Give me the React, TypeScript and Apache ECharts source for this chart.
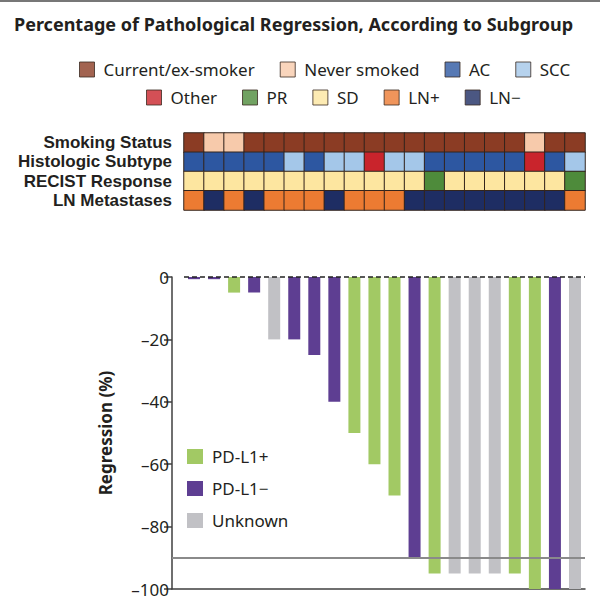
import React, { useEffect, useRef } from 'react';
import * as echarts from 'echarts';

// ---------- data ----------
const patients = ['P1', 'P2', 'P3', 'P4', 'P5', 'P6', 'P7', 'P8', 'P9', 'P10', 'P11', 'P12', 'P13', 'P14', 'P15', 'P16', 'P17', 'P18', 'P19', 'P20'];
const regression = [-0.7, -0.7, -5, -5, -20, -20, -25, -40, -50, -60, -70, -90, -95, -95, -95, -95, -95, -100, -100, -100];
const pdl1Status = ['PD-L1−', 'PD-L1−', 'PD-L1+', 'PD-L1−', 'Unknown', 'PD-L1−', 'PD-L1−', 'PD-L1−', 'PD-L1+', 'PD-L1+', 'PD-L1+', 'PD-L1−', 'PD-L1+', 'Unknown', 'Unknown', 'Unknown', 'PD-L1+', 'PD-L1+', 'PD-L1−', 'Unknown'];
const pdl1Groups = ['PD-L1+', 'PD-L1−', 'Unknown'];

const rowLabels = ['Smoking Status', 'Histologic Subtype', 'RECIST Response', 'LN Metastases'];
const smokingStatus = ['Current/ex-smoker', 'Never smoked', 'Never smoked', 'Current/ex-smoker', 'Current/ex-smoker', 'Current/ex-smoker', 'Current/ex-smoker', 'Current/ex-smoker', 'Current/ex-smoker', 'Current/ex-smoker', 'Current/ex-smoker', 'Current/ex-smoker', 'Current/ex-smoker', 'Current/ex-smoker', 'Current/ex-smoker', 'Current/ex-smoker', 'Current/ex-smoker', 'Never smoked', 'Current/ex-smoker', 'Current/ex-smoker'];
const histologicSubtype = ['AC', 'AC', 'AC', 'AC', 'AC', 'SCC', 'AC', 'SCC', 'SCC', 'Other', 'SCC', 'SCC', 'AC', 'AC', 'AC', 'AC', 'AC', 'Other', 'AC', 'SCC'];
const recistResponse = ['SD', 'SD', 'SD', 'SD', 'SD', 'SD', 'SD', 'SD', 'SD', 'SD', 'SD', 'SD', 'PR', 'SD', 'SD', 'SD', 'SD', 'SD', 'SD', 'PR'];
const lnMetastases = ['LN+', 'LN−', 'LN+', 'LN−', 'LN+', 'LN+', 'LN+', 'LN−', 'LN+', 'LN+', 'LN+', 'LN−', 'LN−', 'LN−', 'LN−', 'LN−', 'LN−', 'LN−', 'LN−', 'LN+'];

const legendRow1 = ['Current/ex-smoker', 'Never smoked', 'AC', 'SCC'];
const legendRow2 = ['Other', 'PR', 'SD', 'LN+', 'LN−'];
const yTicks = [0, -20, -40, -60, -80, -100];

// ---------- styles ----------
const FONT = '"Noto Sans", sans-serif';
const ROW_FONT = '"Liberation Sans", Arial, sans-serif';
const TEXT = '#231f20';
const AXIS = '#3f3f3f';
const FS = 17;
const groupColors: Record<string, string> = {
  'PD-L1+': '#a2c964',
  'PD-L1−': '#5e3e92',
  Unknown: '#c1c1c5',
};
const attrColors: Record<string, string> = {
  'Current/ex-smoker': '#8b3c24',
  'Never smoked': '#f7caab',
  AC: '#2d57a1',
  SCC: '#a4c7e9',
  Other: '#c9242c',
  PR: '#4e8b3b',
  SD: '#fde6a0',
  'LN+': '#ec7b32',
  'LN−': '#1e2d63',
};
const attrNames = [...legendRow1, ...legendRow2];

export default function App() {
  const ref = useRef<HTMLDivElement>(null);

  useEffect(() => {
    if (!ref.current) return;
    const chart = echarts.init(ref.current, undefined, { renderer: 'svg' });

    const rows = [smokingStatus, histologicSubtype, recistResponse, lnMetastases];
    const heatData: number[][] = [];
    rows.forEach((arr, r) => arr.forEach((v, c) => heatData.push([c, r, attrNames.indexOf(v)])));

    const barSeries = pdl1Groups.map((g, gi) => ({
      type: 'bar',
      name: g,
      xAxisIndex: 0,
      yAxisIndex: 0,
      barWidth: 12,
      barGap: '-100%',
      itemStyle: { color: groupColors[g] },
      data: regression
        .map((v, i) => (pdl1Status[i] === g ? [i, v] : null))
        .filter((d) => d !== null),
      markLine:
        gi === 0
          ? {
              silent: true,
              symbol: ['none', 'none'],
              label: { show: false },
              data: [
                [
                  { coord: [-0.5, 0], lineStyle: { type: [5, 3], color: '#222', width: 1.5 } },
                  { coord: [patients.length - 0.5, 0] },
                ],
                { yAxis: -90, lineStyle: { type: 'solid', color: '#8a8a8a', width: 2 } },
              ],
            }
          : undefined,
    }));

    const dummySeries = attrNames.map((n) => ({
      type: 'scatter',
      name: n,
      xAxisIndex: 1,
      yAxisIndex: 1,
      data: [],
      itemStyle: { color: attrColors[n] },
    }));

    const heatIndex = barSeries.length;

    const legendCommon = {
      icon: 'rect',
      padding: 0,
      itemWidth: 15,
      itemHeight: 15,
      itemGap: 25,
      selectedMode: false,
      itemStyle: { borderColor: '#3a2a22', borderWidth: 1 },
      textStyle: { fontFamily: FONT, fontSize: FS, color: TEXT, padding: [0, 0, 0, 4] },
    };

    chart.setOption({
      animation: false,
      textStyle: { fontFamily: FONT },
      title: {
        text: 'Percentage of Pathological Regression, According to Subgroup',
        left: 14,
        top: 15,
        padding: 0,
        textStyle: { fontFamily: FONT, fontWeight: 'bold', fontSize: 18, color: TEXT },
      },
      graphic: [
        { type: 'rect', left: 0, top: 0, shape: { width: 600, height: 2 }, style: { fill: '#777' } },
      ],
      legend: [
        { ...legendCommon, data: legendRow1, left: 79, top: 61 },
        { ...legendCommon, data: legendRow2, left: 146, top: 89 },
        {
          ...legendCommon,
          data: pdl1Groups,
          orient: 'vertical',
          left: 187,
          top: 448,
          itemWidth: 16,
          itemGap: 15,
          itemStyle: { borderWidth: 0 },
        },
      ],
      visualMap: {
        type: 'piecewise',
        show: false,
        seriesIndex: heatIndex,
        dimension: 2,
        pieces: attrNames.map((n, k) => ({ value: k, color: attrColors[n] })),
      },
      grid: [
        { left: 172, right: 15, top: 277, bottom: 11 },
        { left: 184, right: 15, top: 133, height: 77 },
      ],
      xAxis: [
        {
          type: 'value',
          gridIndex: 0,
          min: -1.097,
          max: patients.length - 0.5,
          axisLine: { show: true, onZero: false, lineStyle: { color: AXIS, width: 1.5 } },
          axisTick: { show: false },
          axisLabel: { show: false },
          splitLine: { show: false },
        },
        {
          type: 'category',
          gridIndex: 1,
          data: patients,
          axisLine: { show: false },
          axisTick: { show: false },
          axisLabel: { show: false },
          splitLine: { show: false },
        },
      ],
      yAxis: [
        {
          type: 'value',
          gridIndex: 0,
          min: -100,
          max: 0,
          interval: 20,
          name: 'Regression (%)',
          nameLocation: 'middle',
          nameGap: 58,
          nameTextStyle: { fontFamily: FONT, fontWeight: 'bold', fontSize: FS, color: TEXT },
          axisLine: { show: true, onZero: false, lineStyle: { color: AXIS, width: 1.5 } },
          axisTick: { show: true, length: 8, lineStyle: { color: AXIS, width: 1.5 } },
          axisLabel: {
            fontFamily: FONT,
            fontSize: FS,
            color: TEXT,
            margin: 3,
            formatter: (v: number) => (yTicks.includes(v) ? (v === 0 ? '0' : '–' + Math.abs(v)) : ''),
          },
          splitLine: { show: false },
        },
        {
          type: 'category',
          gridIndex: 1,
          data: rowLabels,
          inverse: true,
          axisLine: { show: false },
          axisTick: { show: false },
          axisLabel: {
            interval: 0,
            fontFamily: ROW_FONT,
            fontWeight: 'bold',
            fontSize: 17,
            lineHeight: 18,
            color: TEXT,
            margin: 12,
          },
          splitLine: { show: false },
        },
      ],
      series: [
        ...barSeries,
        {
          type: 'heatmap',
          xAxisIndex: 1,
          yAxisIndex: 1,
          data: heatData,
          itemStyle: { borderColor: '#33241c', borderWidth: 1 },
        },
        ...dummySeries,
      ],
    });

    return () => chart.dispose();
  }, []);

  return (
    <div
      ref={ref}
      style={{ position: 'absolute', left: 0, top: 0, width: 600, height: 600, background: '#fff' }}
    />
  );
}
